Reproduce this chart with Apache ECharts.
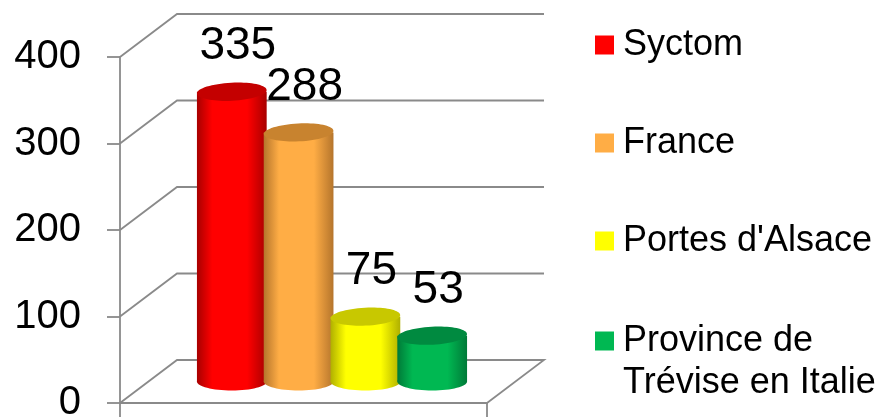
<!DOCTYPE html>
<html>
<head>
<meta charset="utf-8">
<script src="https://cdn.jsdelivr.net/npm/echarts@6/dist/echarts.min.js"></script>
<style>
html, body { margin: 0; padding: 0; background: #fff; }
#main { width: 888px; height: 418px; }
</style>
</head>
<body>
<div id="main"></div>
<script>
// données
const seriesNames = ['Syctom', 'France', "Portes d'Alsace", 'Province de\nTrévise en Italie'];
const values = [335, 288, 75, 53];
const yTicks = [0, 100, 200, 300, 400];

// couleurs : face, bords sombres, dessus du cylindre
const mainColors = ['#ff0000', '#ffad45', '#ffff00', '#00b852'];
const edgeColors = ['#a80000', '#b5752c', '#b0b000', '#007a38'];
const topColors = ['#c40000', '#c8832f', '#c8c800', '#008a40'];

const FONT = '"Liberation Sans", Arial, sans-serif';
const DEPTH_X = 57, DEPTH_Y = -43;   // profondeur de la boite 3D
const LINE = '#8a8a8a';

const chart = echarts.init(document.getElementById('main'));

// murs + sol (lignes de grille sur le fond)
function frameRender(params, api) {
    const v = api.value(1);
    const c = api.coord([0, v]);
    const bw = api.size([1, 0])[0];
    const left = c[0] - bw / 2, right = c[0] + bw / 2, y = c[1];
    const pts = [[left, y], [left + DEPTH_X, y + DEPTH_Y], [right + DEPTH_X, y + DEPTH_Y]];
    if (v === 0) pts.push([right, y]);
    return {
        type: 'polyline',
        shape: { points: pts },
        style: { stroke: LINE, lineWidth: 1.8, fill: null },
        silent: true
    };
}

// un cylindre par série
function cylinderRender(i) {
    return function (params, api) {
        const val = api.value(1);
        const top = api.coord([0, val]);
        const base = api.coord([0, 0]);
        const bw = api.size([1, 0])[0];
        const w = bw * 0.19, step = bw * 0.182;
        const cx = top[0] + (i - 1.5) * step + DEPTH_X / 2;
        const ty = top[1] + DEPTH_Y / 2, by = base[1] + DEPTH_Y / 2;
        const rx = w / 2, ry = 9;
        const grad = () => new echarts.graphic.LinearGradient(0, 0, 1, 0, [
            { offset: 0, color: edgeColors[i] },
            { offset: 0.22, color: mainColors[i] },
            { offset: 0.72, color: mainColors[i] },
            { offset: 1, color: edgeColors[i] }
        ]);
        return {
            type: 'group',
            children: [
                { type: 'ellipse', shape: { cx: cx, cy: by, rx: rx, ry: ry }, style: { fill: grad() } },
                { type: 'rect', shape: { x: cx - rx, y: ty, width: w, height: by - ty }, style: { fill: grad() } },
                {
                    type: 'ellipse', shape: { cx: cx, cy: ty, rx: rx, ry: ry },
                    originX: cx, originY: ty, rotation: 0.05,
                    style: { fill: topColors[i] }
                },
                {
                    type: 'text', x: cx + 6, y: ty - 22,
                    style: { text: String(val), fontSize: 46, fontFamily: FONT, fill: '#000', align: 'center', verticalAlign: 'bottom' }
                }
            ]
        };
    };
}

const series = [{
    type: 'custom',
    name: 'cadre',
    z: 1,
    renderItem: frameRender,
    data: yTicks.map(v => [0, v]),
    silent: true
}];

seriesNames.forEach((name, i) => {
    series.push({
        type: 'custom',
        name: name,
        z: 2 + i,
        itemStyle: { color: mainColors[i] },
        renderItem: cylinderRender(i),
        data: [[0, values[i]]]
    });
});

const legendText = { fontSize: 36, fontFamily: FONT, color: '#000', lineHeight: 42, padding: [0, 0, 0, 4] };

const option = {
    backgroundColor: '#fff',
    animation: false,
    grid: { left: 120, top: 57, width: 367, height: 346, containLabel: false, outerBoundsMode: 'none' },
    legend: [{
        orient: 'vertical',
        left: 595,
        top: 24,
        padding: 0,
        itemWidth: 19,
        itemHeight: 19,
        itemGap: 56,
        icon: 'rect',
        textStyle: legendText,
        data: seriesNames.slice(0, 3)
    }, {
        // dernière entrée sur deux lignes : carré aligné sur la première ligne
        orient: 'vertical',
        left: 595,
        top: 278,
        padding: 0,
        itemWidth: 19,
        itemHeight: 19,
        icon: 'rect',
        textStyle: legendText,
        formatter: name => ' \n' + name,
        data: seriesNames.slice(3)
    }],
    xAxis: {
        type: 'category',
        data: [''],
        axisLine: { show: true, lineStyle: { color: LINE, width: 1.8 } },
        axisTick: { show: true, length: 14, lineStyle: { color: LINE, width: 1.8 } },
        axisLabel: { show: false },
        splitLine: { show: false }
    },
    yAxis: {
        type: 'value',
        min: 0,
        max: 400,
        interval: 100,
        axisLine: { show: true, lineStyle: { color: LINE, width: 1.8 } },
        axisTick: { show: true, length: 13, lineStyle: { color: LINE, width: 1.8 } },
        axisLabel: { fontSize: 40, fontFamily: FONT, color: '#000', margin: 39 },
        splitLine: { show: false }
    },
    series: series
};

chart.setOption(option);
</script>
</body>
</html>
